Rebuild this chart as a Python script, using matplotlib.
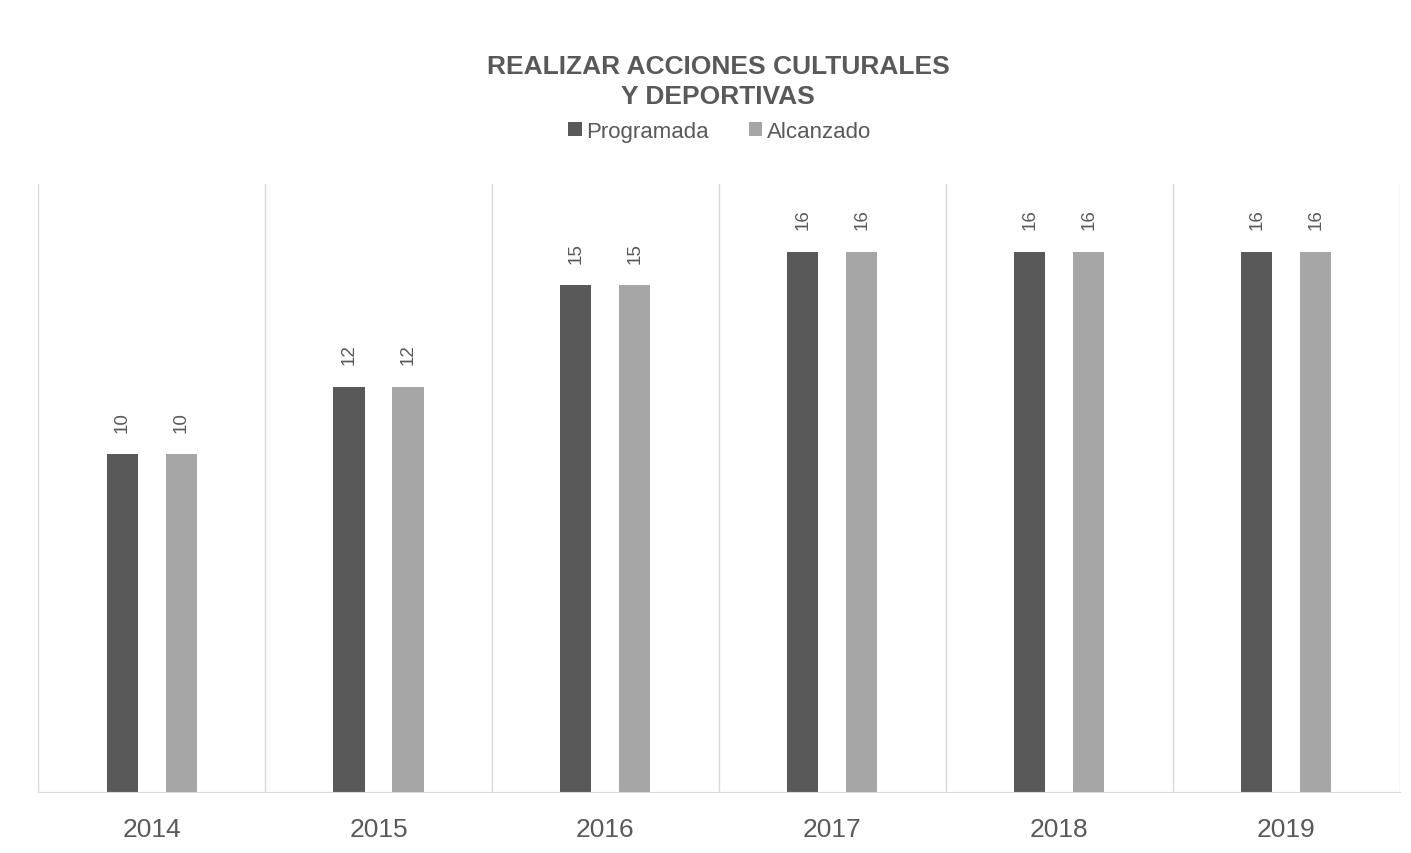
import numpy as np
import matplotlib.pyplot as plt

plt.rcParams['font.family'] = ['Liberation Sans', 'DejaVu Sans']

years = ['2014', '2015', '2016', '2017', '2018', '2019']
programada = [10, 12, 15, 16, 16, 16]
alcanzado = [10, 12, 15, 16, 16, 16]

dark = '#595959'
light = '#A6A6A6'
grid_col = '#D9D9D9'
text_col = '#595959'

fig = plt.figure(figsize=(14.11, 8.54), dpi=100)
ax = fig.add_axes([0.027, 0.0714, 0.965, 0.712])

index = np.arange(len(years))
bar_width = 0.137
offset = 0.13

rects1 = ax.bar(index - offset, programada, bar_width, color=dark, label='Programada')
rects2 = ax.bar(index + offset, alcanzado, bar_width, color=light, label='Alcanzado')

for rects in (rects1, rects2):
    for r in rects:
        ax.annotate(str(int(r.get_height())),
                    (r.get_x() + r.get_width() / 2, r.get_height()),
                    xytext=(0, 16), textcoords='offset points',
                    rotation=90, ha='center', va='bottom',
                    fontsize=13.5, color=text_col)

ax.set_xlim(-0.5, len(years) - 0.5)
ax.set_ylim(0, 18)
ax.set_xticks(index)
ax.set_xticklabels(years, fontsize=19, color=text_col)
ax.tick_params(axis='x', length=0, pad=18)
ax.set_yticks([])

# vertical separators between categories
for x in np.arange(-0.5, len(years), 1.0):
    ax.axvline(x, color=grid_col, linewidth=1, zorder=0)

for s in ['top', 'right', 'left']:
    ax.spines[s].set_visible(False)
ax.spines['bottom'].set_color(grid_col)

fig.text(0.509, 0.904, 'REALIZAR ACCIONES CULTURALES\nY DEPORTIVAS',
         ha='center', va='center', fontsize=19, fontweight='bold',
         color=text_col, linespacing=1.3)

ax.legend(loc='center', bbox_to_anchor=(0.51, 0.845),
          bbox_transform=fig.transFigure, ncol=2, frameon=False,
          fontsize=16, labelcolor=text_col, handlelength=0.6,
          handleheight=0.6, handletextpad=0.2, columnspacing=1.8)

fig.savefig('out.png', dpi=100, facecolor='white')
